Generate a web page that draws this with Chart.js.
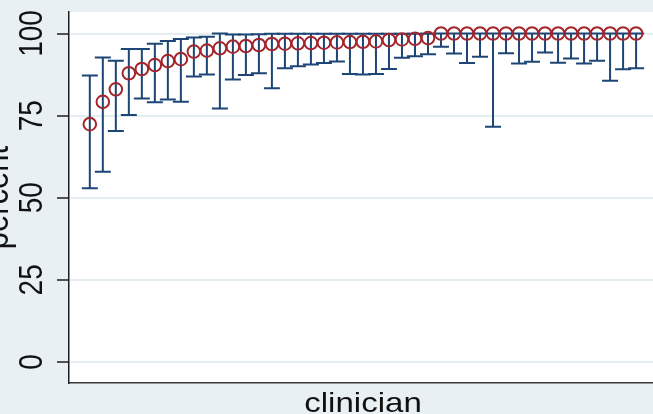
<!DOCTYPE html>
<html>
<head>
<meta charset="utf-8">
<script src="https://cdn.jsdelivr.net/npm/chart.js@4"></script>
<style>
  html, body { margin: 0; padding: 0; background: #E8F0F3; }
  canvas { display: block; }
</style>
</head>
<body>
<canvas id="c" width="653" height="414"></canvas>
<script>
// Clinician number (x position, ordered by percent)
const clinicians = [1, 2, 3, 4, 5, 6, 7, 8, 9, 10, 11, 12, 13, 14, 15, 16, 17, 18, 19, 20, 21, 22,
  23, 24, 25, 26, 27, 28, 29, 30, 31, 32, 33, 34, 35, 36, 37, 38, 39, 40, 41, 42, 43];

// Percent per clinician
const percent = [72.4, 79.2, 83.0, 87.9, 89.2, 90.4, 91.6, 92.2, 94.5, 94.8, 95.5, 96.0, 96.2, 96.5,
  96.8, 96.9, 97.0, 97.1, 97.2, 97.3, 97.4, 97.5, 97.6, 98.0, 98.2, 98.4, 98.6,
  100, 100, 100, 100, 100, 100, 100, 100, 100, 100, 100, 100, 100, 100, 100, 100];

// Lower confidence limit
const ciLow = [52.9, 57.9, 70.3, 75.2, 80.2, 79.1, 79.9, 79.2, 86.9, 87.5, 77.2, 86.0, 87.4, 87.9,
  83.3, 89.4, 90.0, 90.6, 91.0, 91.5, 87.7, 87.5, 87.7, 89.2, 92.6, 93.1, 93.7,
  96.0, 93.9, 91.0, 92.9, 71.6, 94.0, 90.9, 91.4, 94.2, 91.1, 92.4, 90.9, 91.7, 85.6, 89.1, 89.4];

// Upper confidence limit
const ciHigh = [87.2, 92.7, 91.7, 95.3, 95.3, 96.9, 97.7, 98.3, 98.8, 99.0, 100, 99.7, 99.7, 99.8,
  99.9, 99.9, 99.9, 99.9, 99.9, 99.9, 99.9, 99.9, 99.9, 99.9, 99.9, 99.9, 99.9,
  100, 100, 100, 100, 100, 100, 100, 100, 100, 100, 100, 100, 100, 100, 100, 100];

// Y axis tick values
const yTicks = [0, 25, 50, 75, 100];

const BG = '#E8F0F3';
const GRID = '#E4EDF0';
const AXIS = '#1E1E1E';
const TEXT = '#111111';
const STRETCH = 1.18;
const FONT = '28px "Liberation Sans", Arial, sans-serif';
const TITLE_FONT = '31px "Liberation Sans", Arial, sans-serif';

const points = clinicians.map((c, i) => ({ x: i, y: percent[i] }));

// Paints the outer region and the white plot region
const backgroundPlugin = {
  id: 'panels',
  beforeDraw(chart) {
    const { ctx, chartArea: a } = chart;
    ctx.save();
    ctx.fillStyle = BG;
    ctx.fillRect(0, 0, chart.width, chart.height);
    ctx.fillStyle = '#FFFFFF';
    ctx.fillRect(a.left, a.top, a.right - a.left, a.bottom - a.top);
    ctx.restore();
  }
};

// Capped confidence intervals
const capsPlugin = {
  id: 'rcap',
  beforeDatasetsDraw(chart) {
    const { ctx, scales: { x, y } } = chart;
    ctx.save();
    ctx.strokeStyle = '#1D4676';
    ctx.lineWidth = 2;
    const half = 8;
    clinicians.forEach((c, i) => {
      const px = x.getPixelForValue(i);
      const lo = y.getPixelForValue(ciLow[i]);
      const hi = y.getPixelForValue(ciHigh[i]);
      ctx.beginPath();
      ctx.moveTo(px, lo); ctx.lineTo(px, hi);
      ctx.moveTo(px - half, lo); ctx.lineTo(px + half, lo);
      ctx.moveTo(px - half, hi); ctx.lineTo(px + half, hi);
      ctx.stroke();
    });
    ctx.restore();
  }
};

// Rotated tick labels and axis titles
const labelsPlugin = {
  id: 'axisText',
  afterDraw(chart) {
    const { ctx, scales: { y }, chartArea: a } = chart;
    ctx.save();
    ctx.fillStyle = TEXT;
    ctx.font = FONT;
    ctx.textAlign = 'center';
    ctx.textBaseline = 'alphabetic';
    y.ticks.forEach(t => {
      const py = y.getPixelForValue(t.value);
      ctx.save();
      ctx.translate(42, py);
      ctx.scale(STRETCH, 1);
      ctx.rotate(-Math.PI / 2);
      ctx.fillText(String(t.value), 0, 0);
      ctx.restore();
    });
    ctx.save();
    ctx.font = TITLE_FONT;
    ctx.translate(8, (a.top + a.bottom) / 2);
    ctx.scale(STRETCH, 1);
    ctx.rotate(-Math.PI / 2);
    ctx.fillText('percent', 0, 0);
    ctx.restore();
    ctx.save();
    ctx.translate(363, 411.5);
    ctx.scale(STRETCH, 1);
    ctx.fillText('clinician', 0, 0);
    ctx.restore();
    ctx.restore();
  }
};

new Chart(document.getElementById('c'), {
  type: 'scatter',
  data: {
    datasets: [{
      label: 'percent',
      data: points,
      pointStyle: 'circle',
      pointRadius: 6.3,
      pointHoverRadius: 6.3,
      pointBorderWidth: 2,
      pointBorderColor: '#A3262D',
      pointBackgroundColor: 'rgba(0,0,0,0)',
      showLine: false
    }]
  },
  options: {
    responsive: false,
    animation: false,
    events: [],
    layout: { autoPadding: false, padding: { top: 12, left: 0, right: 0, bottom: 0 } },
    plugins: {
      legend: { display: false },
      tooltip: { enabled: false },
      title: { display: false }
    },
    scales: {
      x: {
        type: 'linear',
        min: -1.6,
        max: 43.3,
        ticks: { display: false },
        grid: { display: false, drawTicks: false },
        border: { display: true, color: '#3A3A3A', width: 1.5 },
        afterFit(s) { s.height = 31; }
      },
      y: {
        type: 'linear',
        min: -6.4,
        max: 106.55,
        afterBuildTicks(s) { s.ticks = yTicks.map(v => ({ value: v })); },
        ticks: { display: false },
        grid: {
          color: GRID,
          lineWidth: 2,
          drawTicks: true,
          tickLength: 12,
          tickColor: AXIS,
          tickWidth: 1.5
        },
        border: { display: true, color: AXIS, width: 1.5 },
        afterFit(s) { s.width = 69; }
      }
    }
  },
  plugins: [backgroundPlugin, capsPlugin, labelsPlugin]
});
</script>
</body>
</html>
